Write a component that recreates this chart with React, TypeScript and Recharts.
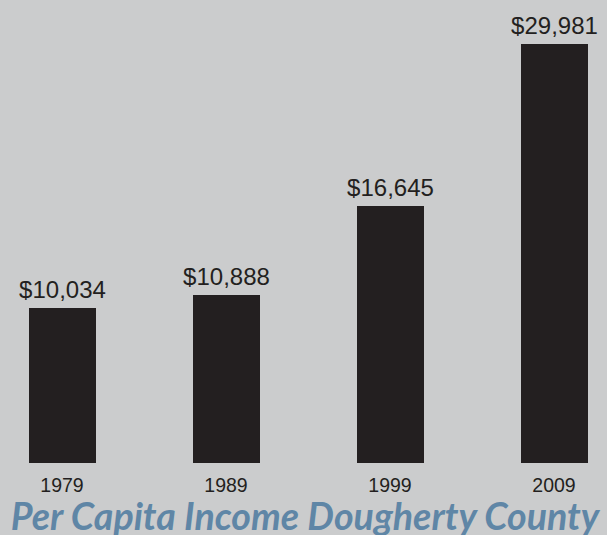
import React from 'react';
import { Bar, BarChart, LabelList, XAxis, YAxis } from 'recharts';

const years = ['1979', '1989', '1999', '2009'];
const incomes = [10034, 10888, 16645, 29981];
// the original cuts the tallest bar off at the top of the plot
const axisMax = 27140;

const data = years.map((year, i) => ({ year, income: incomes[i] }));

const PLOT_TOP = 44;
const INK = '#231f20';
const FONT = "'Liberation Sans', Arial, Helvetica, sans-serif";

function ValueLabel(props: any) {
  const { x, y, width, value } = props;
  const top = Math.max(Number(y), PLOT_TOP);
  return (
    <text
      x={Number(x) + Number(width) / 2}
      y={top - 10}
      textAnchor="middle"
      fill={INK}
      fontSize={24}
      fontFamily={FONT}
    >
      ${Number(value).toLocaleString('en-US')}
    </text>
  );
}

export default function App() {
  return (
    <div
      style={{
        position: 'absolute',
        left: 0,
        top: 0,
        width: 607,
        height: 535,
        overflow: 'hidden',
        background: '#cbcccd',
      }}
    >
      <div style={{ position: 'absolute', left: -20.5, top: 0 }}>
        <BarChart
          width={656}
          height={535}
          data={data}
          margin={{ top: PLOT_TOP, right: 0, bottom: 32, left: 0 }}
        >
          <XAxis
            dataKey="year"
            height={40}
            axisLine={false}
            tickLine={false}
            tickSize={0}
            tickMargin={15}
            tick={{ fill: INK, fontSize: 19.5, fontFamily: FONT }}
          />
          <YAxis hide domain={[0, axisMax]} allowDataOverflow />
          <Bar dataKey="income" fill={INK} barSize={67} isAnimationActive={false}>
            <LabelList dataKey="income" content={<ValueLabel />} />
          </Bar>
        </BarChart>
      </div>
      <svg
        width={607}
        height={535}
        style={{ position: 'absolute', left: 0, top: 0 }}
      >
        <text
          x={305}
          y={530}
          textAnchor="middle"
          fill="#5f86a6"
          fontSize={37.6}
          fontWeight={700}
          fontStyle="italic"
          fontFamily="Lato, 'Open Sans', sans-serif"
        >
          Per Capita Income Dougherty County
        </text>
      </svg>
    </div>
  );
}
